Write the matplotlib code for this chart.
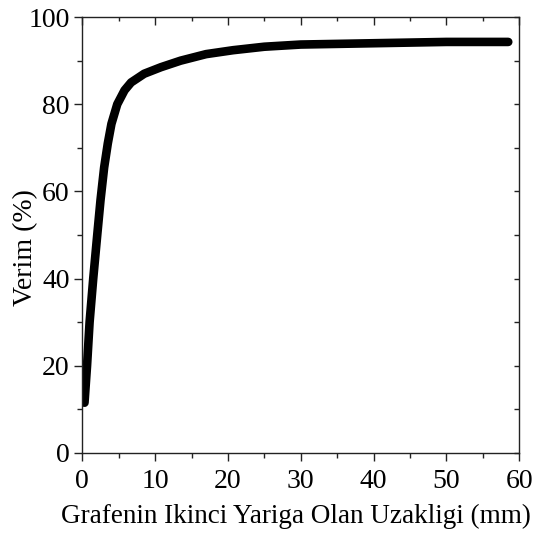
import matplotlib
matplotlib.use('Agg')
from matplotlib import pyplot  # noqa
from matplotlib.ticker import MultipleLocator  # noqa

# distance (mm) and yield (%)
distance = [0.3, 0.65, 1.0, 1.5, 2.05, 2.5, 3.0, 3.5, 4.0, 4.8, 5.8, 6.7, 8.5,
            10.8, 13.5, 17.0, 20.7, 25.0, 30.0, 40.0, 50.0, 58.5]
verim = [11.5, 20.0, 30.0, 40.0, 50.0, 58.0, 65.5, 71.0, 75.5, 80.0, 83.2,
         85.0, 87.0, 88.5, 90.0, 91.5, 92.4, 93.2, 93.7, 94.0, 94.3, 94.3]

x_label = 'Grafenin Ikinci Yariga Olan Uzakligi (mm)'
y_label = 'Verim (%)'

pyplot.rcParams['font.family'] = ['Liberation Serif', 'DejaVu Serif']

fig = pyplot.figure(figsize=(5.38, 5.34), dpi=100)
ax = fig.add_axes([0.153, 0.152, 0.812, 0.816])
ax.plot(distance, verim, color='black', linewidth=6.2, solid_capstyle='round',
        solid_joinstyle='round')

ax.set_xlim(0, 60)
ax.set_ylim(0, 100)
ax.xaxis.set_major_locator(MultipleLocator(10))
ax.xaxis.set_minor_locator(MultipleLocator(5))
ax.yaxis.set_major_locator(MultipleLocator(20))
ax.yaxis.set_minor_locator(MultipleLocator(10))

for side in ax.spines.values():
    side.set_linewidth(1.0)
    side.set_color('#222222')

ax.tick_params(which='major', direction='out', length=6, width=1.0,
               labelsize=20, pad=3, color='#222222')
ax.tick_params(axis='x', which='major', pad=6)
ax.tick_params(which='minor', direction='out', length=3.5, width=1.0,
               color='#222222')
# inward ticks on top and right
ax_top = ax.secondary_xaxis('top')
ax_top.xaxis.set_major_locator(MultipleLocator(10))
ax_top.xaxis.set_minor_locator(MultipleLocator(5))
ax_top.tick_params(which='major', direction='in', length=5.5, width=1.0,
                   labeltop=False, color='#222222')
ax_top.tick_params(which='minor', direction='in', length=3, width=1.0,
                   color='#222222')
ax_top.spines['top'].set_visible(False)
ax_right = ax.secondary_yaxis('right')
ax_right.yaxis.set_major_locator(MultipleLocator(20))
ax_right.yaxis.set_minor_locator(MultipleLocator(10))
ax_right.tick_params(which='both', direction='in', length=3.5, width=1.0,
                     labelright=False, color='#222222')
ax_right.spines['right'].set_visible(False)

ax.set_xlabel(x_label, fontsize=19.5, va='center', ha='center')
ax.set_ylabel(y_label, fontsize=20, va='center', ha='center')
ax.xaxis.set_label_coords(0.489, -0.145)
ax.yaxis.set_label_coords(-0.129, 0.471)

fig.savefig('out.png', dpi=100)
pyplot.close()
